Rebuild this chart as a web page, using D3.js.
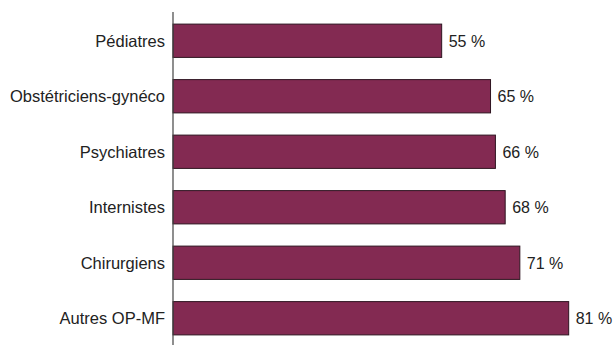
<head>
	<script src="https://d3js.org/d3.v7.min.js"></script>
	<style type="text/css">
		body { margin: 0; background: #fff; }
		text { font-family: "Liberation Sans", Arial, Helvetica, sans-serif; fill: #222; }
	</style>
</head>
<body>
	<script type="text/javascript">
		const categories = ['Pédiatres', 'Obstétriciens-gynéco', 'Psychiatres', 'Internistes', 'Chirurgiens', 'Autres OP-MF']
		const values = [55, 65, 66, 68, 71, 81]

		const width = 614, height = 345
		const svg = d3.select('body').append('svg')
			.attr('width', width)
			.attr('height', height)

		const x = d3.scaleLinear()
			.domain([0, 100])
			.range([173, 661.5])
		const y = d3.scaleBand()
			.domain(categories)
			.range([13, 346])
			.paddingInner(0.4)
			.paddingOuter(0.2)

		const data = categories.map((c, i) => ({cat: c, val: values[i]}))

		svg.append('g').selectAll('rect')
			.data(data)
			.enter().append('rect')
			.attr('x', x(0))
			.attr('y', d => y(d.cat))
			.attr('width', d => x(d.val) - x(0))
			.attr('height', y.bandwidth())
			.style('fill', '#832a52')
			.style('stroke', '#2e1420')
			.style('stroke-width', 1)

		svg.append('line')
			.attr('x1', x(0)).attr('x2', x(0))
			.attr('y1', 12).attr('y2', 345)
			.style('stroke', '#444')
			.style('stroke-width', 1.2)

		svg.append('g').selectAll('text')
			.data(data)
			.enter().append('text')
			.attr('x', x(0) - 8)
			.attr('y', d => y(d.cat) + y.bandwidth() / 2)
			.attr('dy', '0.35em')
			.attr('text-anchor', 'end')
			.style('font-size', '16.5px')
			.text(d => d.cat)

		svg.append('g').selectAll('text')
			.data(data)
			.enter().append('text')
			.attr('x', d => x(d.val) + 7)
			.attr('y', d => y(d.cat) + y.bandwidth() / 2 + 0.5)
			.attr('dy', '0.35em')
			.style('font-size', '16px')
			.text(d => d.val + ' %')
	</script>
</body>
